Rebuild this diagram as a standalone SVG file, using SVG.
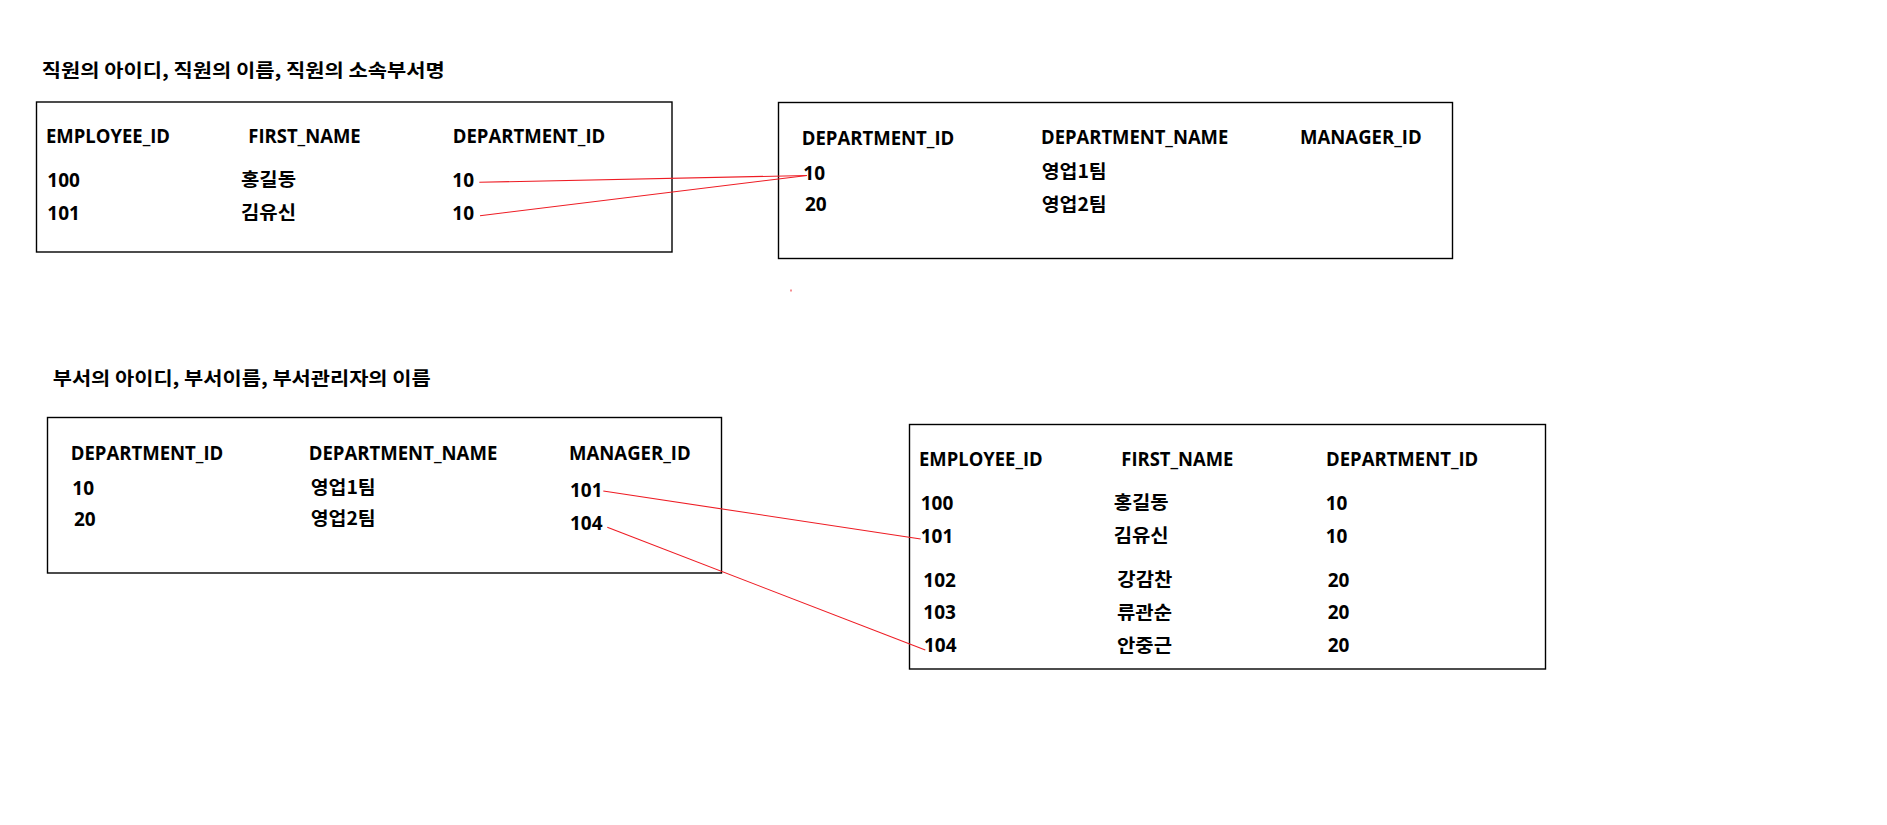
<svg xmlns="http://www.w3.org/2000/svg" width="1887" height="825" viewBox="0 0 1887 825">
<style>
text{font-family:"Open Sans","Noto Sans CJK KR",sans-serif;font-weight:700;fill:#000;font-size:19px}
.ko{font-family:"Noto Sans CJK KR",sans-serif;font-size:18.5px}
.title{font-family:"Noto Sans CJK KR",sans-serif;font-size:18.5px}
.box{fill:#fff;stroke:#000;stroke-width:1.4}
.link{stroke:#ee1c24;stroke-width:1.1;fill:none}
</style>
<rect width="1887" height="825" fill="#fff"/>
<text class="title" x="41.7" y="76.5" textLength="403" lengthAdjust="spacingAndGlyphs">직원의 아이디, 직원의 이름, 직원의 소속부서명</text>
<text class="title" x="52.7" y="385" textLength="378" lengthAdjust="spacingAndGlyphs">부서의 아이디, 부서이름, 부서관리자의 이름</text>
<g id="employees1">
<rect class="box" x="36.5" y="102" width="635.5" height="150"/>
<text x="46" y="143.3" textLength="124" lengthAdjust="spacingAndGlyphs">EMPLOYEE_ID</text>
<text x="248.3" y="143.3" textLength="112.4" lengthAdjust="spacingAndGlyphs">FIRST_NAME</text>
<text x="452.7" y="143.3" textLength="152.6" lengthAdjust="spacingAndGlyphs">DEPARTMENT_ID</text>
<text x="47.3" y="186.7">100</text>
<text x="47.3" y="220">101</text>
<text class="ko" x="241" y="185.5" textLength="55" lengthAdjust="spacingAndGlyphs">홍길동</text>
<text class="ko" x="241" y="219" textLength="55" lengthAdjust="spacingAndGlyphs">김유신</text>
<text x="452.3" y="186.7">10</text>
<text x="452.3" y="220">10</text>
</g>
<g id="departments1">
<rect class="box" x="778.5" y="102.5" width="674" height="156"/>
<text x="801.7" y="145" textLength="152.6" lengthAdjust="spacingAndGlyphs">DEPARTMENT_ID</text>
<text x="1041" y="144.3" textLength="187.3" lengthAdjust="spacingAndGlyphs">DEPARTMENT_NAME</text>
<text x="1300" y="144.3" textLength="121.7" lengthAdjust="spacingAndGlyphs">MANAGER_ID</text>
<text x="803.3" y="180">10</text>
<text x="805" y="210.7">20</text>
<text class="ko" x="1041.7" y="178" textLength="65" lengthAdjust="spacingAndGlyphs">영업1팀</text>
<text class="ko" x="1041.7" y="211" textLength="65" lengthAdjust="spacingAndGlyphs">영업2팀</text>
</g>
<g id="departments2">
<rect class="box" x="47.5" y="417.5" width="674" height="155.5"/>
<text x="70.7" y="460" textLength="152.6" lengthAdjust="spacingAndGlyphs">DEPARTMENT_ID</text>
<text x="308.7" y="460" textLength="188.6" lengthAdjust="spacingAndGlyphs">DEPARTMENT_NAME</text>
<text x="569" y="460" textLength="121.7" lengthAdjust="spacingAndGlyphs">MANAGER_ID</text>
<text x="72.3" y="495">10</text>
<text x="74" y="525.7">20</text>
<text class="ko" x="310.7" y="493.5" textLength="65" lengthAdjust="spacingAndGlyphs">영업1팀</text>
<text class="ko" x="310.7" y="525" textLength="65" lengthAdjust="spacingAndGlyphs">영업2팀</text>
<text x="570" y="497.3">101</text>
<text x="570" y="530">104</text>
</g>
<g id="employees2">
<rect class="box" x="909.5" y="424.5" width="636" height="244.5"/>
<text x="919" y="466" textLength="123.7" lengthAdjust="spacingAndGlyphs">EMPLOYEE_ID</text>
<text x="1121.3" y="466" textLength="112" lengthAdjust="spacingAndGlyphs">FIRST_NAME</text>
<text x="1326" y="466" textLength="152.3" lengthAdjust="spacingAndGlyphs">DEPARTMENT_ID</text>
<text x="920.7" y="510">100</text>
<text x="920.7" y="542.7">101</text>
<text x="923.3" y="586.7">102</text>
<text x="923.3" y="619.3">103</text>
<text x="924" y="652.3">104</text>
<text class="ko" x="1113.7" y="508.5" textLength="55" lengthAdjust="spacingAndGlyphs">홍길동</text>
<text class="ko" x="1113.7" y="541.5" textLength="55" lengthAdjust="spacingAndGlyphs">김유신</text>
<text class="ko" x="1117.3" y="585.5" textLength="55" lengthAdjust="spacingAndGlyphs">강감찬</text>
<text class="ko" x="1117" y="619" textLength="55" lengthAdjust="spacingAndGlyphs">류관순</text>
<text class="ko" x="1117" y="652" textLength="55" lengthAdjust="spacingAndGlyphs">안중근</text>
<text x="1325.7" y="510">10</text>
<text x="1325.7" y="542.7">10</text>
<text x="1327.7" y="586.7">20</text>
<text x="1327.7" y="619.3">20</text>
<text x="1327.7" y="652.3">20</text>
</g>
<g id="connectors">
<line class="link" x1="479.3" y1="182.3" x2="807" y2="175.5"/>
<line class="link" x1="480" y1="215.7" x2="807" y2="175.5"/>
<line class="link" x1="603.3" y1="491" x2="920.7" y2="539"/>
<line class="link" x1="607.3" y1="527.3" x2="925.3" y2="650"/>
<rect x="790.5" y="289.5" width="1" height="2" fill="#ee1c24"/>
</g>
</svg>
